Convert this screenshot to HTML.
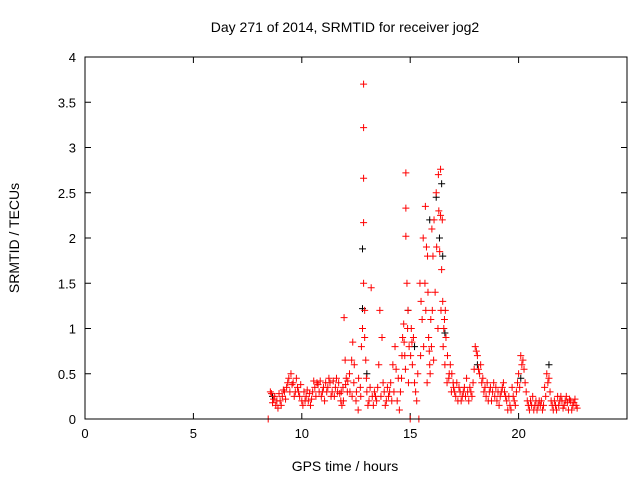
<!DOCTYPE html>
<html><head><meta charset="utf-8"><style>
body{margin:0;background:#fff}
svg{display:block;font-family:"Liberation Sans",sans-serif;font-size:13px}
</style></head><body>
<svg id="chart" width="640" height="480" viewBox="0 0 640 480">
<text x="345" y="32" text-anchor="middle" font-size="14">Day 271 of 2014, SRMTID for receiver jog2</text>
<text transform="translate(19,238) rotate(-90)" text-anchor="middle" font-size="14">SRMTID / TECUs</text>
<text x="345" y="471" text-anchor="middle" font-size="14">GPS time / hours</text>
<g id="axes"></g><g id="marks"></g>
<rect x="85" y="57" width="542" height="362" fill="none" stroke="#000" stroke-width="1"/>
</svg>
<script>
const xTicks=[0,5,10,15,20];
const yTicks=[0,0.5,1,1.5,2,2.5,3,3.5,4];
const yTickLabels=["0","0.5","1","1.5","2","2.5","3","3.5","4"];
const redSeries=[[8.45,0],[8.6,0.28],[8.7,0.22],[8.8,0.15],[8.9,0.12],[9.0,0.2],[9.1,0.25],[9.2,0.3],[9.3,0.35],[9.4,0.45],[9.5,0.5],[9.6,0.4],[9.7,0.3],[9.8,0.35],[9.9,0.25],[10.0,0.2],[10.1,0.3],[10.2,0.25],[10.3,0.2],[10.4,0.15],[10.5,0.3],[10.6,0.35],[10.7,0.4],[10.8,0.3],[10.9,0.25],[11.0,0.35],[11.1,0.4],[11.2,0.35],[11.3,0.4],[11.4,0.3],[11.5,0.25],[11.6,0.45],[11.7,0.4],[11.8,0.2],[11.85,0.15],[11.9,0.35],[11.95,1.12],[12.0,0.65],[12.05,0.45],[12.1,0.3],[12.2,0.5],[12.3,0.65],[12.35,0.85],[12.4,0.4],[12.5,0.2],[12.6,0.1],[12.7,0.35],[12.75,0.8],[12.8,1.0],[12.85,3.7],[12.85,3.22],[12.85,2.66],[12.85,2.17],[12.85,1.5],[12.9,1.2],[12.95,0.65],[13.0,0.3],[13.1,0.2],[13.2,1.45],[13.3,0.15],[13.4,0.25],[13.5,0.35],[13.55,0.6],[13.6,1.2],[13.7,0.9],[13.8,0.3],[13.9,0.2],[14.0,0.25],[14.1,0.4],[14.2,0.6],[14.3,0.8],[14.4,0.2],[14.5,0.1],[14.6,0.45],[14.65,0.9],[14.7,1.05],[14.75,0.7],[14.8,2.72],[14.8,2.33],[14.8,2.02],[14.85,1.5],[14.9,1.2],[14.95,0.8],[15.0,0],[15.05,1.0],[15.1,0.6],[15.2,0.4],[15.3,0.2],[15.4,0],[15.45,1.5],[15.5,1.3],[15.6,2.0],[15.7,2.35],[15.75,1.9],[15.8,1.8],[15.85,0.9],[15.9,0.6],[15.95,1.1],[16.0,2.1],[16.05,1.8],[16.1,2.2],[16.2,2.5],[16.3,2.7],[16.4,2.76],[16.4,2.25],[16.45,1.65],[16.5,1.3],[16.55,1.0],[16.6,0.6],[16.7,0.4],[16.8,0.5],[16.9,0.3],[17.0,0.35],[17.1,0.25],[17.2,0.2],[17.3,0.3],[17.4,0.25],[17.5,0.35],[17.6,0.45],[17.7,0.2],[17.8,0.3],[17.9,0.4],[18.0,0.8],[18.1,0.7],[18.2,0.5],[18.3,0.4],[18.4,0.3],[18.5,0.25],[18.6,0.2],[18.7,0.35],[18.8,0.3],[18.9,0.25],[19.0,0.2],[19.1,0.15],[19.2,0.3],[19.3,0.4],[19.4,0.25],[19.5,0.1],[19.6,0.15],[19.7,0.35],[19.8,0.2],[19.9,0.3],[20.0,0.5],[20.1,0.7],[20.2,0.65],[20.3,0.4],[20.4,0.2],[20.5,0.1],[20.6,0.15],[20.7,0.1],[20.8,0.2],[20.9,0.15],[21.0,0.15],[21.1,0.1],[21.2,0.35],[21.3,0.5],[21.4,0.45],[21.5,0.2],[21.6,0.1],[21.7,0.15],[21.8,0.25],[21.9,0.2],[22.0,0.2],[22.1,0.15],[22.2,0.25],[22.3,0.1],[22.4,0.2],[22.5,0.15],[22.6,0.22],[22.7,0.12]];
const redExtra=[[8.55,0.3],[8.65,0.18],[8.75,0.25],[8.85,0.2],[8.95,0.28],[9.05,0.15],[9.15,0.32],[9.25,0.22],[9.35,0.4],[9.45,0.3],[9.55,0.38],[9.65,0.25],[9.75,0.45],[9.85,0.3],[9.95,0.38],[10.05,0.15],[10.15,0.2],[10.25,0.32],[10.35,0.28],[10.45,0.22],[10.55,0.42],[10.65,0.25],[10.75,0.38],[10.85,0.42],[10.95,0.3],[11.05,0.2],[11.15,0.3],[11.25,0.45],[11.35,0.25],[11.45,0.42],[11.55,0.35],[11.65,0.3],[11.75,0.28],[11.82,0.3],[11.92,0.2],[12.02,0.38],[12.12,0.42],[12.22,0.3],[12.32,0.25],[12.42,0.6],[12.52,0.3],[12.62,0.45],[12.72,0.25],[12.9,0.9],[12.98,0.45],[13.05,0.15],[13.15,0.35],[13.25,0.25],[13.35,0.3],[13.45,0.2],[13.65,0.25],[13.75,0.4],[13.85,0.15],[13.95,0.35],[14.05,0.3],[14.15,0.2],[14.25,0.3],[14.35,0.55],[14.45,0.45],[14.55,0.3],[14.62,0.7],[14.72,0.85],[14.78,0.55],[14.88,1.0],[14.92,0.4],[15.02,0.7],[15.08,0.85],[15.15,0.9],[15.25,0.3],[15.35,0.5],[15.48,0.7],[15.55,1.1],[15.62,0.8],[15.68,1.5],[15.72,1.2],[15.78,0.4],[15.82,1.4],[15.88,0.75],[15.92,0.5],[15.98,0.8],[16.02,1.2],[16.08,0.65],[16.15,1.4],[16.22,1.9],[16.28,1.0],[16.32,2.3],[16.36,1.85],[16.42,1.2],[16.48,2.2],[16.52,0.8],[16.58,1.1],[16.62,1.2],[16.65,0.9],[16.72,0.7],[16.78,0.45],[16.85,0.6],[16.92,0.5],[16.98,0.4],[17.05,0.3],[17.15,0.4],[17.25,0.35],[17.35,0.2],[17.45,0.3],[17.55,0.25],[17.65,0.3],[17.75,0.35],[17.85,0.25],[17.95,0.55],[18.05,0.75],[18.15,0.55],[18.25,0.6],[18.35,0.45],[18.45,0.35],[18.55,0.4],[18.65,0.3],[18.75,0.2],[18.85,0.4],[18.95,0.35],[19.05,0.3],[19.15,0.25],[19.25,0.35],[19.35,0.3],[19.45,0.2],[19.55,0.25],[19.65,0.1],[19.75,0.25],[19.85,0.15],[19.95,0.4],[20.05,0.35],[20.15,0.6],[20.25,0.55],[20.35,0.3],[20.45,0.15],[20.55,0.2],[20.65,0.25],[20.75,0.15],[20.85,0.1],[20.95,0.2],[21.05,0.2],[21.15,0.15],[21.25,0.25],[21.35,0.4],[21.45,0.3],[21.55,0.15],[21.65,0.2],[21.75,0.1],[21.85,0.15],[21.95,0.25],[22.05,0.12],[22.15,0.2],[22.25,0.18],[22.35,0.22],[22.45,0.1],[22.55,0.18],[22.65,0.15]];
const blackSeries=[[8.65,0.25],[12.8,1.88],[12.8,1.22],[13.0,0.5],[14.9,1.2],[15.2,0.8],[15.9,2.2],[16.2,2.45],[16.35,2.0],[16.45,2.6],[16.5,1.8],[16.6,0.95],[18.1,0.6],[20.1,0.45],[21.4,0.6]];
const X0=85,X1=627,Y0=419,Y1=57,XMAX=25,YMAX=4;
const sx=v=>X0+v/XMAX*(X1-X0);
const sy=v=>Y0-v/YMAX*(Y0-Y1);
const NS="http://www.w3.org/2000/svg";
const axes=document.getElementById('axes'),marks=document.getElementById('marks');
function mk(tag,attrs,parent){const e=document.createElementNS(NS,tag);for(const k in attrs)e.setAttribute(k,attrs[k]);parent.appendChild(e);return e;}
xTicks.forEach(t=>{
 const x=sx(t);
 const l=mk('path',{d:`M${x},${Y0}v-6M${x},${Y1}v6`,stroke:'#000'},axes);
 
 
 const tx=mk('text',{x:x,y:Y0+19,'text-anchor':'middle'},axes);tx.textContent=t;
 
 
});
yTicks.forEach((t,i)=>{
 const y=sy(t);
 const l=mk('path',{d:`M${X0},${y}h6M${X1},${y}h-6`,stroke:'#000'},axes);
 
 
 const tx=mk('text',{x:X0-9,y:y+5,'text-anchor':'end'},axes);tx.textContent=yTickLabels[i];
 
 
});
function plus(series,color,name){
 series.forEach(p=>{
  const x=sx(p[0]),y=sy(p[1]);
  const e=mk('path',{d:`M${x-3.5},${y}h7M${x},${y-3.5}v7`,stroke:color,'stroke-width':1},marks);
  
  
 });
}
plus(blackSeries,'#000','black-point');
plus(redSeries,'#f00','red-point');
plus(redExtra,'#f00','red-point');
</script>
</body></html>
